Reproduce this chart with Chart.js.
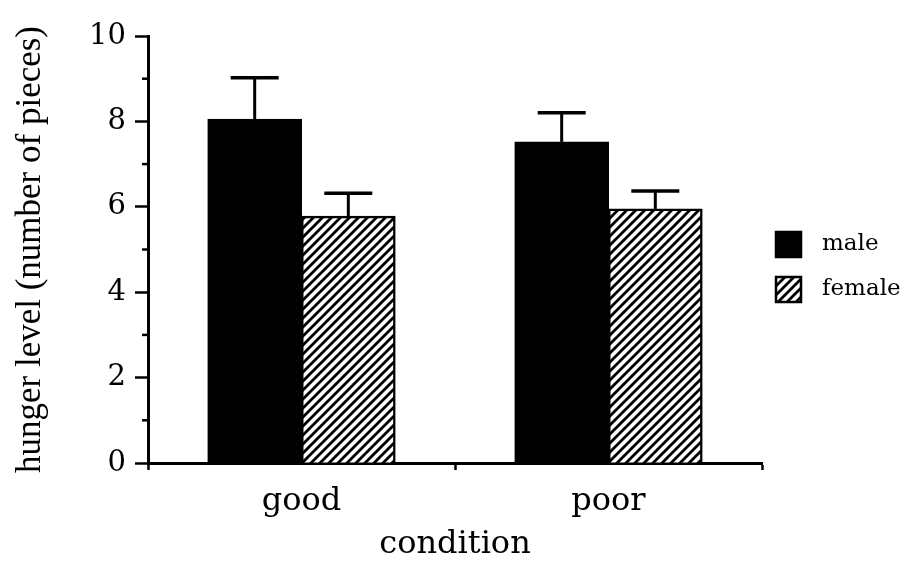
<!DOCTYPE html>
<html>
<head>
<meta charset="utf-8">
<script src="https://cdn.jsdelivr.net/npm/chart.js@4"></script>
<style>
  html, body { margin: 0; padding: 0; background: #fff; }
</style>
</head>
<body>
<canvas id="hunger" width="914" height="564"></canvas>
<script>
const categories = ["good", "poor"];
const maleMeans = [8.05, 7.52];
const femaleMeans = [5.78, 5.95];
const maleErr = [0.97, 0.68];
const femaleErr = [0.54, 0.42];
const yMajorTicks = [0, 2, 4, 6, 8, 10];
const yMinorTicks = [1, 3, 5, 7, 9];

const serif = "DejaVu Serif";
const canvas = document.getElementById("hunger");
const ctx = canvas.getContext("2d");

// diagonal "/" hatching for the female bars
const makeHatch = () => {
  const size = 9;
  const tile = document.createElement("canvas");
  tile.width = size;
  tile.height = size;
  const t = tile.getContext("2d");
  t.fillStyle = "#fff";
  t.fillRect(0, 0, size, size);
  t.strokeStyle = "#000";
  t.lineWidth = 2.8;
  t.beginPath();
  t.moveTo(0, size); t.lineTo(size, 0);
  t.moveTo(-2, 2); t.lineTo(2, -2);
  t.moveTo(size - 2, size + 2); t.lineTo(size + 2, size - 2);
  t.stroke();
  return ctx.createPattern(tile, "repeat");
};
const hatch = makeHatch();

// one-sided (upward) error bars on top of every bar
const errorBars = {
  id: "errorBars",
  afterDatasetsDraw(chart) {
    const { ctx } = chart;
    const y = chart.scales.y;
    const errs = [maleErr, femaleErr];
    ctx.save();
    ctx.strokeStyle = "#000";
    chart.data.datasets.forEach((ds, i) => {
      chart.getDatasetMeta(i).data.forEach((bar, j) => {
        const top = y.getPixelForValue(ds.data[j]);
        const end = y.getPixelForValue(ds.data[j] + errs[i][j]);
        ctx.lineWidth = 3;
        ctx.beginPath();
        ctx.moveTo(bar.x, top);
        ctx.lineTo(bar.x, end);
        ctx.stroke();
        ctx.lineWidth = 3.5;
        ctx.beginPath();
        ctx.moveTo(bar.x - 24, end);
        ctx.lineTo(bar.x + 24, end);
        ctx.stroke();
      });
    });
    ctx.restore();
  },
};

// short minor ticks at the odd values of the y axis
const minorTicks = {
  id: "minorTicks",
  afterDraw(chart) {
    const { ctx } = chart;
    const y = chart.scales.y;
    ctx.save();
    ctx.strokeStyle = "#000";
    ctx.lineWidth = 2.5;
    yMinorTicks.forEach((v) => {
      const py = y.getPixelForValue(v);
      ctx.beginPath();
      ctx.moveTo(y.right - 6, py);
      ctx.lineTo(y.right, py);
      ctx.stroke();
    });
    ctx.restore();
  },
};

// legend to the right of the plot
const sideLegend = {
  id: "sideLegend",
  afterDraw(chart) {
    const { ctx, chartArea } = chart;
    const x = chartArea.right + 14;
    const rows = [
      { y: chartArea.top + 196, fill: "#000", label: chart.data.datasets[0].label },
      { y: chartArea.top + 241, fill: hatch, label: chart.data.datasets[1].label },
    ];
    ctx.save();
    ctx.font = `23px "${serif}"`;
    ctx.textBaseline = "middle";
    rows.forEach((r) => {
      ctx.fillStyle = r.fill;
      ctx.fillRect(x, r.y, 25, 25);
      ctx.strokeStyle = "#000";
      ctx.lineWidth = 2.5;
      ctx.strokeRect(x, r.y, 25, 25);
      ctx.fillStyle = "#000";
      ctx.fillText(r.label, x + 46, r.y + 12);
    });
    ctx.restore();
  },
};

const datasets = [
  {
    label: "male",
    data: maleMeans,
    backgroundColor: "#000",
    borderColor: "#000",
    borderWidth: 2,
  },
  {
    label: "female",
    data: femaleMeans,
    backgroundColor: hatch,
    borderColor: "#000",
    borderWidth: 2.5,
  },
];

new Chart(canvas, {
  type: "bar",
  data: { labels: categories, datasets },
  plugins: [errorBars, minorTicks, sideLegend],
  options: {
    responsive: false,
    animation: false,
    layout: {
      padding: { top: 36, right: 152, left: 0, bottom: 0 },
    },
    datasets: {
      bar: {
        categoryPercentage: 0.61,
        barPercentage: 1,
        inflateAmount: 0.5,
      },
    },
    plugins: {
      legend: { display: false },
      tooltip: { enabled: false },
    },
    scales: {
      x: {
        offset: true,
        afterFit(scale) { scale.height = 101; },
        border: { color: "#000", width: 3 },
        grid: {
          offset: true,
          drawOnChartArea: false,
          tickLength: 7,
          tickWidth: 2.5,
          tickColor: "#000",
        },
        ticks: {
          color: "#000",
          padding: 12,
          font: { family: serif, size: 32 },
        },
        title: {
          display: true,
          text: "condition",
          color: "#000",
          padding: { top: 0, bottom: 0 },
          font: { family: serif, size: 32 },
        },
      },
      y: {
        min: 0,
        max: 10,
        afterFit(scale) { scale.width = 148; },
        afterBuildTicks(scale) {
          scale.ticks = yMajorTicks.map((v) => ({ value: v }));
        },
        border: { color: "#000", width: 3 },
        grid: {
          drawOnChartArea: false,
          tickLength: 13,
          tickWidth: 2.5,
          tickColor: "#000",
        },
        ticks: {
          color: "#000",
          padding: 9,
          font: { family: serif, size: 29 },
        },
        title: {
          display: true,
          text: "hunger level (number of pieces)",
          color: "#000",
          padding: { top: 10, bottom: 0 },
          font: { family: "Liberation Serif", size: 35 },
        },
      },
    },
  },
});
</script>
</body>
</html>
